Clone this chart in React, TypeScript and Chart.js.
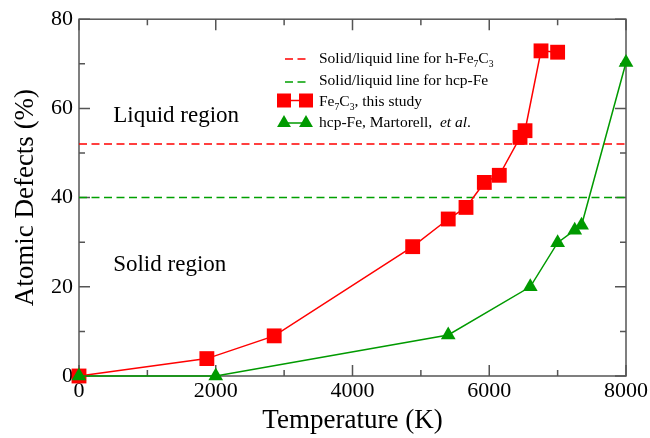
import React, { useEffect, useRef } from 'react';
import { Chart, registerables } from 'chart.js';

Chart.register(...registerables);

// ---- data ----
const fe7c3Temps = [0, 1870, 2855, 4880, 5400, 5660, 5928, 6147, 6450, 6523, 6757, 7000];
const fe7c3Defects = [0, 3.9, 9.0, 29.0, 35.2, 37.8, 43.4, 45.0, 53.5, 55.0, 72.9, 72.6];
const hcpTemps = [0, 2000, 5400, 6600, 7000, 7250, 7350, 8000];
const hcpDefects = [0, 0, 9.2, 20.0, 29.9, 32.7, 33.8, 70.3];
const fe7c3MeltLine = 52;
const hcpMeltLine = 40;
const xRange = [0, 8000];
const yRange = [0, 80];
const xMajorStep = 2000;
const xMinorStep = 1000;
const yMajorStep = 20;
const yMinorStep = 10;
const xTitle = 'Temperature (K)';
const yTitle = 'Atomic Defects (%)';
const regionLabels = ['Liquid region', 'Solid region'];
const regionLabelValues = [[500, 57.0], [500, 23.5]]; // [x, y] in data units (baseline-left)

type Part = { t: string; sub?: boolean; italic?: boolean };
const legendItems: { kind: 'dash' | 'square' | 'triangle'; color: string; parts: Part[] }[] = [
  { kind: 'dash', color: '#ff0000', parts: [{ t: 'Solid/liquid line for h-Fe' }, { t: '7', sub: true }, { t: 'C' }, { t: '3', sub: true }] },
  { kind: 'dash', color: '#00a000', parts: [{ t: 'Solid/liquid line for hcp-Fe' }] },
  { kind: 'square', color: '#ff0000', parts: [{ t: 'Fe' }, { t: '7', sub: true }, { t: 'C' }, { t: '3', sub: true }, { t: ', this study' }] },
  { kind: 'triangle', color: '#009a00', parts: [{ t: 'hcp-Fe, Martorell,  ' }, { t: 'et al', italic: true }, { t: '.' }] },
];

const RED = '#ff0000';
const GREEN = '#009a00';
const FRAME = '#555555';
const SERIF = "'Liberation Serif', 'Times New Roman', serif";

const decorPlugin = {
  id: 'decor',
  beforeDatasetsDraw(chart: any) {
    const { ctx, chartArea, scales } = chart;
    const { left, right, top, bottom } = chartArea;
    const x = scales.x;
    const y = scales.y;
    ctx.save();
    ctx.strokeStyle = FRAME;
    ctx.lineWidth = 1.5;
    ctx.beginPath();
    for (let v = xRange[0]; v <= xRange[1]; v += xMinorStep) {
      const len = v % xMajorStep === 0 ? 11 : 6;
      const px = x.getPixelForValue(v);
      ctx.moveTo(px, bottom);
      ctx.lineTo(px, bottom - len);
      ctx.moveTo(px, top);
      ctx.lineTo(px, top + len);
    }
    for (let v = yRange[0]; v <= yRange[1]; v += yMinorStep) {
      const len = v % yMajorStep === 0 ? 11 : 6;
      const py = y.getPixelForValue(v);
      ctx.moveTo(left, py);
      ctx.lineTo(left + len, py);
      ctx.moveTo(right, py);
      ctx.lineTo(right - len, py);
    }
    ctx.stroke();
    ctx.strokeRect(left, top, right - left, bottom - top);
    ctx.restore();
  },
  afterDraw(chart: any) {
    const { ctx, scales } = chart;
    const x = scales.x;
    const y = scales.y;
    ctx.save();
    // region labels
    ctx.fillStyle = '#000';
    ctx.font = `23px ${SERIF}`;
    ctx.textBaseline = 'alphabetic';
    ctx.textAlign = 'left';
    regionLabels.forEach((lab, i) => {
      ctx.fillText(lab, x.getPixelForValue(regionLabelValues[i][0]), y.getPixelForValue(regionLabelValues[i][1]));
    });
    // legend
    const fs = 15.5;
    const baseX = 319;
    const baselines = [63, 85, 106, 127];
    const markerYs = [59, 82, 100.5, 123];
    legendItems.forEach((it, i) => {
      const my = markerYs[i];
      ctx.strokeStyle = it.color;
      ctx.fillStyle = it.color;
      ctx.lineWidth = 1.5;
      if (it.kind === 'dash') {
        ctx.setLineDash([8, 4.5]);
        ctx.beginPath();
        ctx.moveTo(285, my);
        ctx.lineTo(306, my);
        ctx.stroke();
        ctx.setLineDash([]);
      } else {
        ctx.beginPath();
        ctx.moveTo(284, my);
        ctx.lineTo(306, my);
        ctx.stroke();
        [284, 306].forEach((cx) => {
          if (it.kind === 'square') {
            ctx.fillRect(cx - 7, my - 7, 14, 14);
          } else {
            const r = 8;
            ctx.beginPath();
            ctx.moveTo(cx, my - r);
            ctx.lineTo(cx + r * Math.sin((2 * Math.PI) / 3), my + r / 2);
            ctx.lineTo(cx - r * Math.sin((2 * Math.PI) / 3), my + r / 2);
            ctx.closePath();
            ctx.fill();
          }
        });
      }
      let cx = baseX;
      ctx.fillStyle = '#000';
      it.parts.forEach((p) => {
        const size = p.sub ? fs * 0.62 : fs;
        ctx.font = `${p.italic ? 'italic ' : ''}${size}px ${SERIF}`;
        const by = baselines[i] + (p.sub ? 4 : 0);
        ctx.fillText(p.t, cx, by);
        cx += ctx.measureText(p.t).width;
      });
    });
    ctx.restore();
  },
};

export default function App() {
  const ref = useRef<HTMLCanvasElement>(null);
  useEffect(() => {
    document.body.style.margin = '0';
    if (!ref.current) return;
    const chart = new Chart(ref.current, {
      type: 'scatter',
      data: {
        datasets: [
          {
            label: 'hcp-Fe, Martorell, et al.',
            data: hcpTemps.map((t, i) => ({ x: t, y: hcpDefects[i] })),
            showLine: true,
            borderColor: GREEN,
            backgroundColor: GREEN,
            borderWidth: 1.5,
            pointStyle: 'triangle',
            pointRadius: 8.5,
            pointBorderWidth: 0,
            clip: false,
            order: 0,
          },
          {
            label: 'Fe7C3, this study',
            data: fe7c3Temps.map((t, i) => ({ x: t, y: fe7c3Defects[i] })),
            showLine: true,
            borderColor: RED,
            backgroundColor: RED,
            borderWidth: 1.5,
            pointStyle: 'rect',
            pointRadius: 10.5,
            pointBorderWidth: 0,
            clip: false,
            order: 1,
          },
          {
            label: 'Solid/liquid line for h-Fe7C3',
            data: xRange.map((t) => ({ x: t, y: fe7c3MeltLine })),
            showLine: true,
            borderColor: RED,
            borderWidth: 1.5,
            borderDash: [8, 4.5],
            pointRadius: 0,
            order: 2,
          },
          {
            label: 'Solid/liquid line for hcp-Fe',
            data: xRange.map((t) => ({ x: t, y: hcpMeltLine })),
            showLine: true,
            borderColor: '#00a000',
            borderWidth: 1.5,
            borderDash: [8, 4.5],
            pointRadius: 0,
            order: 2,
          },
        ],
      },
      options: {
        animation: false,
        responsive: false,
        maintainAspectRatio: false,
        layout: { padding: { top: 18, right: 24, left: 0, bottom: 0 } },
        plugins: { legend: { display: false }, tooltip: { enabled: false } },
        scales: {
          x: {
            type: 'linear',
            min: xRange[0],
            max: xRange[1],
            grid: { display: false, drawTicks: false },
            border: { display: false },
            ticks: { stepSize: xMajorStep, color: '#000', padding: 2, font: { family: SERIF, size: 22 }, maxRotation: 0, callback: (v: any) => String(v) },
            title: { display: true, text: xTitle, color: '#000', font: { family: SERIF, size: 27 }, padding: { top: 0, bottom: 1 } },
            afterFit: (s: any) => { s.height = 62; },
          },
          y: {
            type: 'linear',
            min: yRange[0],
            max: yRange[1],
            grid: { display: false, drawTicks: false },
            border: { display: false },
            ticks: { stepSize: yMajorStep, color: '#000', padding: 6, font: { family: SERIF, size: 22 }, callback: (v: any) => String(v) },
            title: { display: true, text: yTitle, color: '#000', font: { family: SERIF, size: 27 }, padding: { top: 10, bottom: 0 } },
            afterFit: (s: any) => { s.width = 79; },
          },
        },
      },
      plugins: [decorPlugin],
    });
    return () => chart.destroy();
  }, []);
  return (
    <div style={{ position: 'absolute', left: 0, top: 0, width: 650, height: 438 }}>
      <canvas ref={ref} width={650} height={438} style={{ width: 650, height: 438 }} />
    </div>
  );
}
